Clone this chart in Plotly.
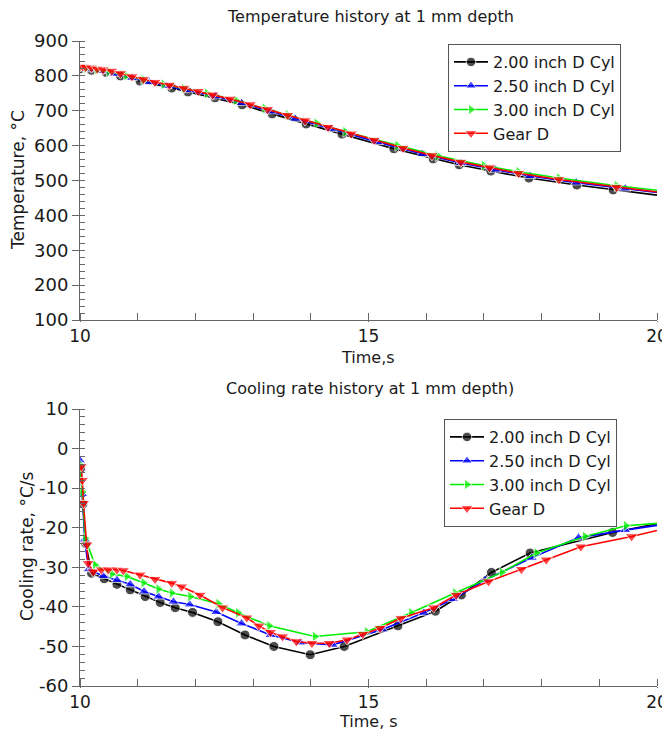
import plotly.graph_objects as go

# ---------------- data ----------------
series_names = ["2.00 inch D Cyl", "2.50 inch D Cyl", "3.00 inch D Cyl", "Gear D"]

# Temperature history (time s, temperature C)
temp_t_200 = [10.0, 10.2, 10.45, 10.7, 11.04, 11.59, 11.87, 12.34, 12.81, 13.33, 13.92, 14.54, 15.44, 16.12, 16.57, 17.12, 17.78, 18.61, 19.24, 20.0]
temp_v_200 = [820, 816, 810, 800, 785, 765, 754, 737, 717, 691, 662, 633, 591, 562, 545, 527, 507, 487, 473, 458]

temp_t_250 = [10.0, 10.15, 10.35, 10.6, 10.9, 11.2, 11.5, 11.85, 12.35, 12.8, 13.3, 13.73, 14.35, 15.16, 15.93, 16.6, 17.2, 17.8, 18.6, 19.45, 20.0]
temp_v_250 = [822, 819, 814, 806, 794, 782, 771, 759, 741, 722, 698, 677, 648, 610, 576, 550, 531, 513, 494, 477, 466]

temp_t_300 = [10.0, 10.1, 10.3, 10.5, 10.8, 11.1, 11.45, 11.8, 12.2, 12.7, 13.2, 13.6, 14.1, 14.6, 15.5, 16.2, 17.0, 17.6, 18.3, 19.3, 20.0]
temp_v_300 = [824, 822, 818, 813, 801, 789, 776, 764, 750, 730, 707, 688, 664, 640, 600, 571, 543, 525, 507, 485, 472]

temp_t_gear = [10.0, 10.05, 10.1, 10.2, 10.3, 10.4, 10.55, 10.7, 10.9, 11.1, 11.3, 11.55, 11.8, 12.05, 12.3, 12.6, 12.95, 13.25, 13.6, 13.9, 14.3, 14.7, 15.1, 15.6, 16.1, 16.6, 17.1, 17.6, 18.3, 19.3, 20.0]
temp_v_gear = [827, 826, 825, 823, 820, 818, 814, 807, 798, 790, 782, 774, 765, 756, 746, 734, 718, 704, 687, 672, 653, 634, 616, 593, 572, 553, 537, 521, 503, 481, 467]

# Cooling rate history (time s, rate C/s)
rate_t_200 = [10.01, 10.05, 10.1, 10.2, 10.42, 10.64, 10.87, 11.13, 11.39, 11.65, 11.95, 12.39, 12.86, 13.36, 13.99, 14.58, 15.51, 16.16, 16.61, 17.13, 17.8, 19.23, 20.0]
rate_v_200 = [-5, -14, -24, -31.5, -32.9, -34.3, -35.7, -37.4, -38.9, -40.2, -41.4, -43.75, -47.1, -50, -52.1, -50, -44.8, -41.1, -37, -31.3, -26.4, -21.2, -19]

rate_t_250 = [10.0, 10.04, 10.08, 10.15, 10.4, 10.64, 10.87, 11.11, 11.36, 11.62, 11.9, 12.36, 12.8, 13.3, 13.82, 14.38, 15.24, 15.96, 16.47, 17.02, 17.83, 18.64, 19.45, 20.0]
rate_v_250 = [-3, -11.5, -23, -30.5, -32.2, -33.2, -34.3, -36.1, -37.4, -38.7, -39.4, -41.3, -44.2, -47.1, -49, -49.6, -45.7, -41.5, -38, -33.2, -27.6, -22.5, -20.6, -19.4]

rate_t_300 = [10.0, 10.04, 10.09, 10.26, 10.55, 10.81, 11.1, 11.36, 11.59, 11.91, 12.4, 12.74, 13.28, 14.07, 14.97, 15.74, 16.5, 17.31, 17.91, 18.75, 19.46, 20.0]
rate_v_300 = [-4, -11, -22.7, -29.4, -31.7, -32.3, -33.9, -35.5, -36.5, -37.4, -39.2, -41.5, -44.8, -47.5, -46.3, -41.5, -36.5, -31.3, -26.4, -22.2, -19.5, -18.9]

rate_t_gear = [10.02, 10.04, 10.06, 10.12, 10.14, 10.23, 10.37, 10.49, 10.64, 10.75, 11.04, 11.3, 11.59, 11.76, 12.08, 12.47, 12.89, 13.1, 13.3, 13.51, 13.75, 14.02, 14.32, 14.63, 14.9, 15.2, 15.56, 16.13, 16.52, 17.08, 17.65, 18.08, 18.68, 19.56, 20.0]
rate_v_gear = [-4.5, -8, -13.8, -24.3, -29, -31.1, -30.6, -30.6, -30.6, -30.8, -31.9, -33, -34, -34.9, -37, -40.2, -42.75, -44.8, -46.4, -47.5, -48.75, -49.2, -49.2, -48.3, -46.9, -45.4, -42.9, -40.2, -37, -33.6, -30.5, -28.1, -24.8, -22.2, -20.7]

temp_y_ticks = [100, 200, 300, 400, 500, 600, 700, 800, 900]
rate_y_ticks = [10, 0, -10, -20, -30, -40, -50, -60]
x_ticks = [10, 15, 20]

# ---------------- styling ----------------
FONT = "DejaVu Sans"
TXT = "#1a1a1a"
AX = "#666666"
colors = ["#000000", "#0000ff", "#00ee00", "#ff0000"]
symbols = ["circle", "triangle-up", "triangle-right", "triangle-down"]
msizes = [10, 10, 10, 11]

temp_data = [(temp_t_200, temp_v_200), (temp_t_250, temp_v_250), (temp_t_300, temp_v_300), (temp_t_gear, temp_v_gear)]
rate_data = [(rate_t_200, rate_v_200), (rate_t_250, rate_v_250), (rate_t_300, rate_v_300), (rate_t_gear, rate_v_gear)]

fig = go.Figure()

def sizes(n, s):
    return [s] * (n - 1) + [0]

for i, (t, v) in enumerate(temp_data):
    fig.add_trace(go.Scatter(
        x=t, y=v, name=series_names[i], mode="lines+markers",
        line=dict(color=colors[i], width=1.6),
        marker=dict(symbol=symbols[i], color=colors[i], size=sizes(len(t), msizes[i])),
        xaxis="x", yaxis="y", legend="legend"))

for i, (t, v) in enumerate(rate_data):
    fig.add_trace(go.Scatter(
        x=t, y=v, name=series_names[i], mode="lines+markers",
        line=dict(color=colors[i], width=1.6),
        marker=dict(symbol=symbols[i], color=colors[i], size=sizes(len(t), msizes[i])),
        xaxis="x2", yaxis="y2", legend="legend2"))

# page body has an 8px margin: figure is sized/offset to land on the reference pixels
OFF = 8
W, H = 670 - OFF, 741 - 2 * OFF

def px(x):
    return (x - OFF) / W

def py(y):
    return 1 - (y - OFF) / H

xdom = [px(80), px(657)]
top_dom = [py(320), py(41)]
bot_dom = [py(686), py(409)]

axis_common = dict(
    showgrid=False, zeroline=False, showline=True, linecolor=AX, linewidth=1,
    ticks="outside", ticklen=7, tickcolor=AX, automargin=False,
    tickfont=dict(family=FONT, size=18, color=TXT),
)

xaxis_common = dict(axis_common, range=[10, 20], tickvals=x_ticks,
                    ticktext=[str(v) for v in x_ticks],
                    tickfont=dict(family=FONT, size=17, color=TXT),
                    minor=dict(dtick=1, tick0=10, ticks="inside", ticklen=7, tickcolor=AX))

fig.update_layout(
    width=W, height=H,
    margin=dict(l=0, r=0, t=0, b=0, autoexpand=False),
    paper_bgcolor="white", plot_bgcolor="white",
    font=dict(family=FONT, color=TXT),
    xaxis=dict(xaxis_common, domain=xdom, anchor="y", ticklen=1),
    yaxis=dict(axis_common, domain=top_dom, anchor="x", range=[100, 900], tickvals=temp_y_ticks,
               ticktext=[str(v) for v in temp_y_ticks],
               minor=dict(dtick=20, tick0=100, ticks="inside", ticklen=5, tickcolor=AX)),
    xaxis2=dict(xaxis_common, domain=xdom, anchor="y2", ticklen=1),
    yaxis2=dict(axis_common, domain=bot_dom, anchor="x2", range=[-60, 10], tickvals=rate_y_ticks,
                ticktext=[str(v) for v in rate_y_ticks],
                minor=dict(dtick=2, tick0=-60, ticks="inside", ticklen=5, tickcolor=AX)),
    legend=dict(x=px(448), y=py(44), xanchor="left", yanchor="top",
                bgcolor="white", bordercolor="#555555", borderwidth=1,
                font=dict(family=FONT, size=16, color=TXT), itemwidth=34, tracegroupgap=0),
    legend2=dict(x=px(444), y=py(419), xanchor="left", yanchor="top",
                 bgcolor="white", bordercolor="#555555", borderwidth=1,
                 font=dict(family=FONT, size=16, color=TXT), itemwidth=34, tracegroupgap=0),
    showlegend=True,
)

def ann(text, x, y, size=16, angle=0):
    fig.add_annotation(text=text, x=px(x), y=py(y), xref="paper", yref="paper",
                       showarrow=False, textangle=angle, xanchor="center", yanchor="middle",
                       borderpad=0, font=dict(family=FONT, size=size, color=TXT))

ann("Temperature history at 1 mm depth", 370, 17, size=16)
ann("Time,s", 368, 357, size=16)
ann("Temperature, \u00b0C", 18, 180, angle=-90, size=17)
ann("Cooling rate history at 1 mm depth)", 370, 388, size=16)
ann("Time, s", 368, 721, size=16)
ann("Cooling rate, \u00b0C/s", 27, 546, angle=-90, size=17)

fig.write_html("out.html")
